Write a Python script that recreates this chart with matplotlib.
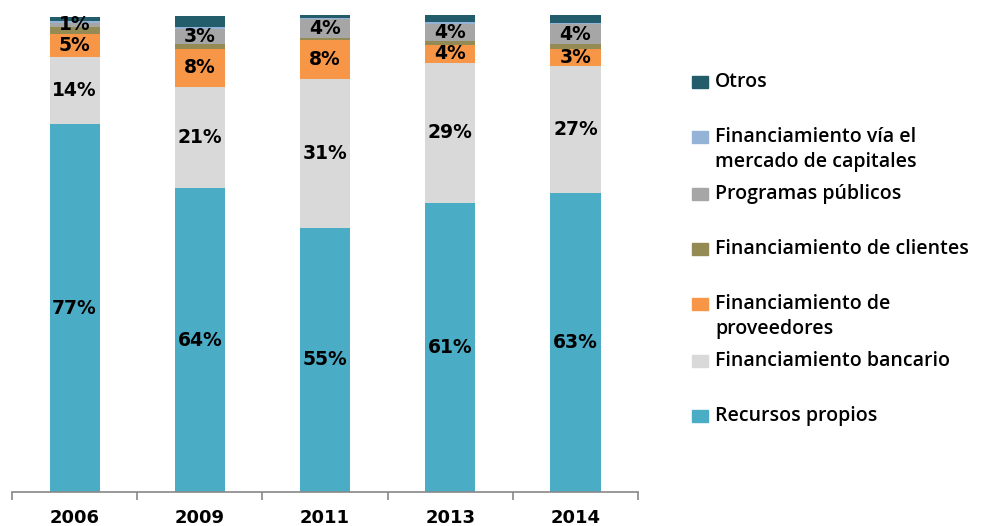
import matplotlib
matplotlib.use("Agg")
import matplotlib.pyplot as plt
import numpy as np
from matplotlib.patches import Rectangle

plt.rcParams['font.family'] = ['Open Sans', 'DejaVu Sans']

# data (percent of financing by source)
years = ['2006', '2009', '2011', '2013', '2014']
recursos = [77.1, 63.7, 55.4, 60.6, 62.6]
bancario = [14.0, 21.2, 31.2, 29.4, 26.8]
proveedores = [5.0, 8.0, 8.2, 3.8, 3.4]
clientes = [1.3, 1.0, 0.4, 0.8, 1.2]
publicos = [1.0, 3.1, 4.0, 3.6, 4.0]
capitales = [0.4, 0.5, 0.2, 0.3, 0.3]
otros = [0.8, 2.3, 0.6, 1.5, 1.7]

series = [
    ('Recursos propios', recursos, '#4BACC6', True),
    ('Financiamiento bancario', bancario, '#D9D9D9', True),
    ('Financiamiento de\nproveedores', proveedores, '#F79646', True),
    ('Financiamiento de clientes', clientes, '#948A54', False),
    ('Programas públicos', publicos, '#A6A6A6', True),
    ('Financiamiento vía el\nmercado de capitales', capitales, '#95B3D7', False),
    ('Otros', otros, '#235C6B', False),
]

fig = plt.figure(figsize=(9.97, 5.26), dpi=100)
ax = fig.add_axes([0.012, 0.0646, 0.628, 0.907])

x = np.arange(len(years))
bottom = np.zeros(len(years))
for name, vals, color, show in series:
    vals = np.array(vals)
    ax.bar(x, vals, 0.4, bottom=bottom, color=color, edgecolor='none')
    if show:
        for xi, b, v in zip(x, bottom, vals):
            ax.text(xi, b + v / 2, f'{round(v)}%', ha='center', va='center',
                    fontsize=13.5, fontweight='bold', color='black',
                    family='DejaVu Sans')
    bottom += vals

ax.set_xlim(-0.5, len(years) - 0.5)
ax.set_ylim(0, 100)
ax.set_yticks([])
for s in ['left', 'right', 'top']:
    ax.spines[s].set_visible(False)
ax.spines['bottom'].set_color('#888888')
ax.spines['bottom'].set_linewidth(1.2)
ax.set_xticks(x)
ax.set_xticklabels(years, fontsize=13, fontweight='bold', family='DejaVu Sans')
ax.tick_params(axis='x', which='major', length=0, pad=12)
ax.set_xticks(np.arange(-0.5, len(years)), minor=True)
ax.tick_params(axis='x', which='minor', length=6, color='#888888', width=1.2)

# legend drawn by hand to mimic the spacing of the original
leg_y = [416, 361, 304, 249, 194, 137, 82]
for (name, vals, color, show), py in zip(series, leg_y):
    fy = 1 - py / 526
    fig.patches.append(Rectangle((692 / 997, fy - 6 / 526), 16 / 997, 12 / 526,
                                 transform=fig.transFigure, color=color))
    fig.text(715 / 997, fy + 10 / 526, name, ha='left', va='top', fontsize=14,
             fontweight='semibold', linespacing=1.35)

fig.savefig('out.png', dpi=100)
